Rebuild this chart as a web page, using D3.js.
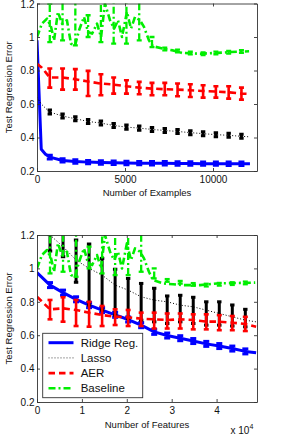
<!DOCTYPE html>
<html><head><meta charset="utf-8">
<script src="https://cdn.jsdelivr.net/npm/d3@7"></script>
<style>
html,body{margin:0;padding:0;background:#fff;}
svg{display:block;}
text{font-family:"Liberation Sans",Arial,Helvetica,sans-serif;fill:#111;}
</style></head><body>
<svg id="chart" width="283" height="443"></svg>
<script>
// ---------- data: top panel (Number of Examples) ----------
const exampleX = [0, 242, 484, 726, 1452, 2178, 2904, 3630, 4356, 5082, 5808, 6534, 7260, 7986, 8712, 9438, 10164, 10890, 11616, 12100];
const exampleErrX = [726, 1452, 2178, 2904, 3630, 4356, 5082, 5808, 6534, 7260, 7986, 8712, 9438, 10164, 10890, 11616];
const ridgeTop = [0.98, 0.33, 0.30, 0.283, 0.263, 0.257, 0.253, 0.251, 0.249, 0.248, 0.247, 0.246, 0.246, 0.245, 0.245, 0.244, 0.244, 0.243, 0.243, 0.243];
const ridgeTopLo = [0.272, 0.253, 0.247, 0.243, 0.241, 0.239, 0.238, 0.237, 0.236, 0.236, 0.235, 0.235, 0.234, 0.234, 0.233, 0.233];
const ridgeTopHi = [0.294, 0.273, 0.267, 0.263, 0.261, 0.259, 0.258, 0.257, 0.256, 0.256, 0.255, 0.255, 0.254, 0.254, 0.253, 0.253];
const lassoTop = [0.64, 0.60, 0.575, 0.552, 0.528, 0.512, 0.496, 0.486, 0.472, 0.462, 0.456, 0.448, 0.442, 0.436, 0.429, 0.423, 0.417, 0.413, 0.407, 0.404];
const lassoTopLo = [0.540, 0.516, 0.500, 0.484, 0.474, 0.460, 0.450, 0.444, 0.436, 0.430, 0.424, 0.417, 0.411, 0.405, 0.401, 0.395];
const lassoTopHi = [0.564, 0.540, 0.524, 0.508, 0.498, 0.484, 0.474, 0.468, 0.460, 0.454, 0.448, 0.441, 0.435, 0.429, 0.425, 0.419];
const aerTop = [0.84, 0.82, 0.79, 0.758, 0.758, 0.748, 0.734, 0.722, 0.716, 0.706, 0.698, 0.692, 0.688, 0.686, 0.682, 0.678, 0.674, 0.67, 0.662, 0.66];
const aerTopLo = [0.698, 0.686, 0.686, 0.648, 0.652, 0.662, 0.662, 0.658, 0.652, 0.652, 0.646, 0.642, 0.638, 0.638, 0.632, 0.626];
const aerTopHi = [0.812, 0.812, 0.808, 0.798, 0.778, 0.758, 0.742, 0.732, 0.726, 0.726, 0.722, 0.718, 0.712, 0.706, 0.706, 0.698];
const baselineExamplesX = [0, 280, 570, 800, 970, 1190, 1420, 1700, 1930, 2160, 2390, 2670, 2900, 3130, 3410, 3640, 3860, 4150, 4380, 4600, 4830, 5110, 5340, 5570, 5850, 6080, 6360, 6590, 7160, 7730, 8240, 9260, 10230, 11020, 12050];
const baselineTop = [1.0, 1.08, 1.11, 1.06, 0.98, 1.15, 1.08, 1.1, 0.96, 0.95, 1.04, 1.12, 1.03, 1.02, 1.08, 1.0, 1.2, 1.1, 1.05, 1.1, 1.0, 1.15, 1.05, 1.12, 1.1, 1.06, 0.98, 0.945, 0.93, 0.92, 0.905, 0.9, 0.905, 0.91, 0.915];
const baselineTopLo = [0.97, 0.98, 0.95, 1.0, 0.97, 0.96, 0.96, 0.98, 0.94, 0.92, 0.909, 0.896, 0.892, 0.897, 0.901, 0.905];
const baselineTopHi = [1.2, 1.22, 1.22, 1.13, 1.25, 1.22, 1.22, 1.22, 1.0, 0.936, 0.925, 0.912, 0.908, 0.913, 0.917, 0.921];

// ---------- data: bottom panel (Number of Features) ----------
const featureX = [0, 2900, 5800, 8700, 11600, 14500, 17400, 20300, 23200, 26100, 29000, 31900, 34800, 37700, 40600, 43500, 46400, 48800];
const featureErrX = [2900, 5800, 8700, 11600, 14500, 17400, 20300, 23200, 26100, 29000, 31900, 34800, 37700, 40600, 43500, 46400];
const ridgeBottom = [0.975, 0.90, 0.855, 0.815, 0.78, 0.75, 0.722, 0.694, 0.66, 0.62, 0.598, 0.582, 0.565, 0.548, 0.535, 0.52, 0.503, 0.495];
const ridgeBottomLo = [0.885, 0.84, 0.80, 0.765, 0.735, 0.707, 0.679, 0.645, 0.605, 0.583, 0.567, 0.55, 0.533, 0.52, 0.505, 0.488];
const ridgeBottomHi = [0.915, 0.87, 0.83, 0.795, 0.765, 0.737, 0.709, 0.675, 0.635, 0.613, 0.597, 0.58, 0.563, 0.55, 0.535, 0.518];
const lassoBottom = [1.3, 1.2, 1.13, 1.05, 1.0, 0.96, 0.9, 0.87, 0.83, 0.81, 0.8, 0.78, 0.77, 0.75, 0.73, 0.71, 0.69, 0.68];
const lassoBottomLo = [1.104, 1.07, 0.917, 0.78, 0.75, 0.72, 0.7, 0.69, 0.68, 0.67, 0.68, 0.67, 0.66, 0.66, 0.655, 0.65];
const lassoBottomHi = [1.32, 1.28, 1.17, 1.146, 1.06, 0.995, 0.94, 0.91, 0.881, 0.835, 0.839, 0.827, 0.8, 0.8, 0.781, 0.755];
const aerBottom = [0.83, 0.755, 0.761, 0.751, 0.735, 0.721, 0.711, 0.707, 0.699, 0.695, 0.691, 0.695, 0.691, 0.681, 0.681, 0.675, 0.667, 0.651];
const aerBottomLo = [0.695, 0.681, 0.655, 0.651, 0.655, 0.661, 0.655, 0.655, 0.64, 0.64, 0.64, 0.635, 0.635, 0.63, 0.63, 0.625];
const aerBottomHi = [0.811, 0.827, 0.811, 0.8, 0.775, 0.755, 0.751, 0.735, 0.735, 0.73, 0.73, 0.725, 0.725, 0.72, 0.715, 0.71];
const baselineFeaturesX = [0, 1100, 2230, 3140, 3800, 4660, 5570, 6660, 7570, 8470, 9370, 10470, 11370, 12270, 13370, 14270, 15130, 16270, 17170, 18030, 18930, 20030, 20930, 21830, 22930, 23830, 24930, 25830, 28070, 30300, 32300, 36300, 40100, 43200, 48600];
const baselineBottom = [1.0, 1.08, 1.11, 1.06, 0.98, 1.15, 1.08, 1.1, 0.96, 0.95, 1.04, 1.12, 1.03, 1.02, 1.08, 1.0, 1.2, 1.1, 1.05, 1.1, 1.0, 1.15, 1.05, 1.12, 1.1, 1.06, 0.98, 0.93, 0.91, 0.905, 0.9, 0.9, 0.91, 0.912, 0.915];
const baselineBottomLo = [0.97, 0.98, 0.95, 1.0, 0.97, 0.96, 0.96, 0.98, 0.94, 0.92, 0.909, 0.896, 0.892, 0.897, 0.901, 0.905];
const baselineBottomHi = [1.2, 1.22, 1.22, 1.13, 1.25, 1.22, 1.22, 1.22, 1.0, 0.936, 0.925, 0.912, 0.908, 0.913, 0.917, 0.921];

// ---------- ticks / labels ----------
const yTicks = [0.2, 0.4, 0.6, 0.8, 1, 1.2];
const yTickLabels = ["0.2", "0.4", "0.6", "0.8", "1", "1.2"];
const exampleTicks = [0, 5000, 10000];
const exampleTickLabels = ["0", "5000", "10000"];
const featureTicks = [0, 10000, 20000, 30000, 40000];
const featureTickLabels = ["0", "1", "2", "3", "4"];
const seriesNames = ["Ridge Reg.", "Lasso", "AER", "Baseline"];

// ---------- styles ----------
const styles = {
  ridge: {color: "#0000ff", width: 3, dash: null, errDash: null, cap: 3},
  lasso: {color: "#000000", width: 1, dash: "1,2", errDash: null, errWidth: 3, cap: 2.2},
  aer: {color: "#ff0000", width: 2.6, dash: "6.5,4", errDash: null, cap: 2.5},
  base: {color: "#00ee00", width: 2.6, dash: "7,3,2,3", errDash: "7,3,2,3", errWidth: 2.3, cap: 2.5}
};

const svg = d3.select("#chart");
const L = 37, R = 257;

function drawPanel(cfg) {
  const x = d3.scaleLinear().domain(cfg.xDomain).range([L, R]);
  const y = d3.scaleLinear().domain([0.2, 1.2]).range(cfg.yRange);
  const top = cfg.yRange[1], bot = cfg.yRange[0];
  const g = svg.append("g");
  g.append("rect").attr("x", L).attr("y", top).attr("width", R - L).attr("height", bot - top).attr("fill", "#fff");
  const cid = "clip" + cfg.id;
  svg.append("defs").append("clipPath").attr("id", cid)
    .append("rect").attr("x", L).attr("y", top).attr("width", R - L).attr("height", bot - top);
  const plot = g.append("g").attr("clip-path", `url(#${cid})`);

  const line = d3.line().x(d => x(d[0])).y(d => y(d[1]));
  function series(xs, ys, st) {
    plot.append("path").attr("d", line(xs.map((v, i) => [v, ys[i]])))
      .attr("fill", "none").attr("stroke", st.color).attr("stroke-width", st.width)
      .attr("stroke-dasharray", st.dash).attr("stroke-linejoin", "round");
  }
  function errs(xs, lo, hi, st) {
    const w = st.errWidth || st.width;
    xs.forEach((xv, i) => {
      const px = x(xv);
      plot.append("line").attr("x1", px).attr("x2", px).attr("y1", y(lo[i])).attr("y2", y(hi[i]))
        .attr("stroke", st.color).attr("stroke-width", w).attr("stroke-dasharray", st.errDash);
      [lo[i], hi[i]].forEach(v => {
        plot.append("line").attr("x1", px - st.cap).attr("x2", px + st.cap).attr("y1", y(v)).attr("y2", y(v))
          .attr("stroke", st.color).attr("stroke-width", w);
      });
    });
  }
  cfg.draw(series, errs);

  // axes (MATLAB-style box with inward ticks)
  const fmtX = d => cfg.xTickLabels[cfg.xTicks.indexOf(d)];
  const fmtY = d => yTickLabels[yTicks.indexOf(d)];
  const ax = g.append("g").attr("transform", `translate(0,${bot})`)
    .call(d3.axisBottom(x).tickValues(cfg.xTicks).tickFormat(fmtX).tickSizeInner(-3).tickSizeOuter(0).tickPadding(4.5));
  const ay = g.append("g").attr("transform", `translate(${L},0)`)
    .call(d3.axisLeft(y).tickValues(yTicks).tickFormat(fmtY).tickSizeInner(-3).tickSizeOuter(0).tickPadding(2.5));
  const at = g.append("g").attr("transform", `translate(0,${top})`)
    .call(d3.axisTop(x).tickValues(cfg.xTicks).tickFormat("").tickSizeInner(-3).tickSizeOuter(0));
  const ar = g.append("g").attr("transform", `translate(${R},0)`)
    .call(d3.axisRight(y).tickValues(yTicks).tickFormat("").tickSizeInner(-3).tickSizeOuter(0));
  [ax, ay, at, ar].forEach(a => {
    a.selectAll("path,line").attr("stroke", "#333").attr("stroke-width", 0.9);
    a.selectAll("text").attr("font-size", 10).attr("fill", "#111")
      .attr("font-family", '"Liberation Sans",Arial,Helvetica,sans-serif');
  });
  // keep the top tick label inside the page
  ay.selectAll(".tick text").filter(d => y(d) < 6).attr("dy", "0.72em").attr("y", -y(1.2) + 0.3);
  g.append("text").attr("x", (L + R) / 2).attr("y", cfg.xLabelY).attr("text-anchor", "middle")
    .attr("font-size", 9.5).text(cfg.xLabel);
  g.append("text").attr("transform", `translate(11.5,${(top + bot) / 2}) rotate(-90)`)
    .attr("text-anchor", "middle").attr("font-size", 9.5).text("Test Regression Error");
  return {x, y, g};
}

// top panel
drawPanel({
  id: "top", xDomain: [0, 12500], yRange: [171, 3.5],
  xTicks: exampleTicks, xTickLabels: exampleTickLabels,
  xLabel: "Number of Examples", xLabelY: 196,
  draw: (series, errs) => {
    series(exampleX, ridgeTop, styles.ridge);
    errs(exampleErrX, ridgeTopLo, ridgeTopHi, styles.ridge);
    series(exampleX, lassoTop, styles.lasso);
    errs(exampleErrX, lassoTopLo, lassoTopHi, styles.lasso);
    series(exampleX, aerTop, styles.aer);
    errs(exampleErrX, aerTopLo, aerTopHi, styles.aer);
    series(baselineExamplesX, baselineTop, styles.base);
    errs(exampleErrX, baselineTopLo, baselineTopHi, styles.base);
  }
});

// bottom panel
drawPanel({
  id: "bot", xDomain: [0, 49000], yRange: [402, 235],
  xTicks: featureTicks, xTickLabels: featureTickLabels,
  xLabel: "Number of Features", xLabelY: 428,
  draw: (series, errs) => {
    series(featureX, ridgeBottom, styles.ridge);
    errs(featureErrX, ridgeBottomLo, ridgeBottomHi, styles.ridge);
    series(featureX, lassoBottom, styles.lasso);
    errs(featureErrX, lassoBottomLo, lassoBottomHi, styles.lasso);
    series(featureX, aerBottom, styles.aer);
    errs(featureErrX, aerBottomLo, aerBottomHi, styles.aer);
    series(baselineFeaturesX, baselineBottom, styles.base);
    errs(featureErrX, baselineBottomLo, baselineBottomHi, styles.base);
  }
});

// exponent label
const ex = svg.append("text").attr("x", 230.5).attr("y", 433.5).attr("font-size", 10);
ex.append("tspan").text("x 10");
ex.append("tspan").attr("font-size", 7).attr("dy", -5).text("4");

// legend
const lg = svg.append("g");
lg.append("rect").attr("x", 42.7).attr("y", 333.3).attr("width", 100).attr("height", 64.4)
  .attr("fill", "#fff").attr("stroke", "#333").attr("stroke-width", 0.9);
const legStyles = [styles.ridge, styles.lasso, styles.aer, styles.base];
seriesNames.forEach((name, i) => {
  const cy = 342.7 + i * 15.2;
  const st = legStyles[i];
  lg.append("line").attr("x1", 48.5).attr("x2", 73.5).attr("y1", cy).attr("y2", cy)
    .attr("stroke", i === 1 ? "#444" : st.color).attr("stroke-width", st.width).attr("stroke-dasharray", st.dash);
  lg.append("text").attr("x", 80.7).attr("y", cy + 4).attr("font-size", 11.5).text(name);
});
</script>
</body></html>
